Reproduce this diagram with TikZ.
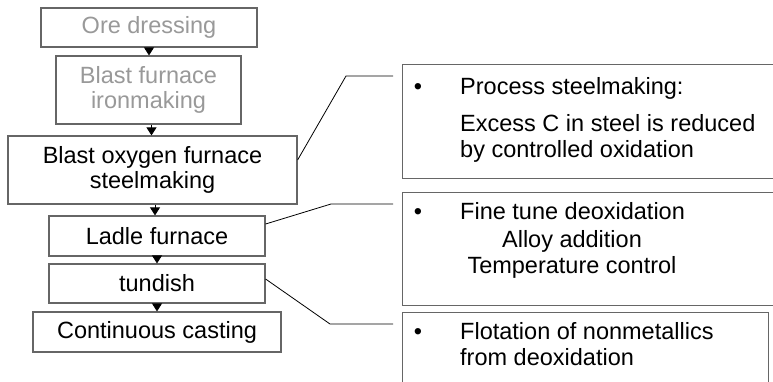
\documentclass[tikz,border=0pt]{standalone}
\usepackage{fontspec}
\setmainfont{Liberation Sans}
\usetikzlibrary{arrows.meta}
\begin{document}
\begin{tikzpicture}[x=1pt,y=-1pt,
  every node/.style={font=\fontsize{23.5}{25}\selectfont, inner sep=0pt},
  stage/.style={draw=black!60, line width=1.2pt, align=center, fill=white},
  faded/.style={stage, text=black!40},
  note/.style={draw=black!60, line width=1.2pt, fill=white},
  flow/.style={line width=0.8pt, -{Triangle[length=8pt,width=10pt]}},
  lead/.style={line width=0.8pt, black}]
\useasboundingbox (0,0) rectangle (773,381);

% process chain
\node[faded, minimum width=216pt, minimum height=39pt] (ore) at (149,27.5) {Ore dressing};
\node[faded, minimum width=185pt, minimum height=68pt] (bf) at (148.5,90) {Blast furnace\\ironmaking};
\node[stage, minimum width=289pt, minimum height=68pt] (bof) at (152.5,170) {Blast oxygen furnace\\steelmaking};
\node[stage, minimum width=216pt, minimum height=40pt] (lf) at (157,236) {Ladle furnace};
\node[stage, minimum width=216pt, minimum height=39pt] (tun) at (157,283.5) {tundish};
\node[stage, minimum width=248pt, minimum height=40pt] (cc) at (157,332) {Continuous casting};

\draw[flow] (ore.south) -- (ore.south |- bf.north);
\draw[flow] ([xshift=3pt]bf.south) -- ([xshift=3pt]bf.south |- bof.north);
\draw[flow] ([xshift=2.5pt]bof.south) -- ([xshift=2.5pt]bof.south |- lf.north);
\draw[flow] (lf.south) -- (lf.south |- tun.north);
\draw[flow] (tun.south) -- (tun.south |- cc.north);

% annotation boxes
\node[note, anchor=north west, minimum width=380pt, minimum height=114pt] (n1) at (402,64) {};
\node[note, anchor=north west, minimum width=380pt, minimum height=113pt] (n2) at (402,192) {};
\node[note, anchor=north west, minimum width=366pt, minimum height=90pt] (n3) at (402,312) {};

% annotation texts
\node[anchor=base] (b1) at (418,94) {•};
\node[anchor=base west] (t1a) at (460,94) {Process steelmaking:};
\node[anchor=base west] (t1b) at (460,131) {Excess C in steel is reduced};
\node[anchor=base west] (t1c) at (460,157) {by controlled oxidation};

\node[anchor=base] (b2) at (418,219) {•};
\node[anchor=base west] (t2a) at (460,219) {Fine tune deoxidation};
\node[anchor=base] (t2b) at (572,247) {Alloy addition};
\node[anchor=base] (t2c) at (572,273) {Temperature control};

\node[anchor=base] (b3) at (418,339) {•};
\node[anchor=base west] (t3a) at (460,339) {Flotation of nonmetallics};
\node[anchor=base west] (t3b) at (460,365) {from deoxidation};

% leader lines
\coordinate (k1) at (346,76);
\coordinate (k2) at (331,204);
\coordinate (k3) at (330,324);
\draw[lead] ([yshift=10pt]bof.east) -- (k1) -- (k1 -| 393,0);
\draw[lead] ([yshift=12pt]lf.east) -- (k2) -- (k2 -| 393,0);
\draw[lead] ([yshift=4.5pt]tun.east) -- (k3) -- (k3 -| 393,0);
\end{tikzpicture}
\end{document}
